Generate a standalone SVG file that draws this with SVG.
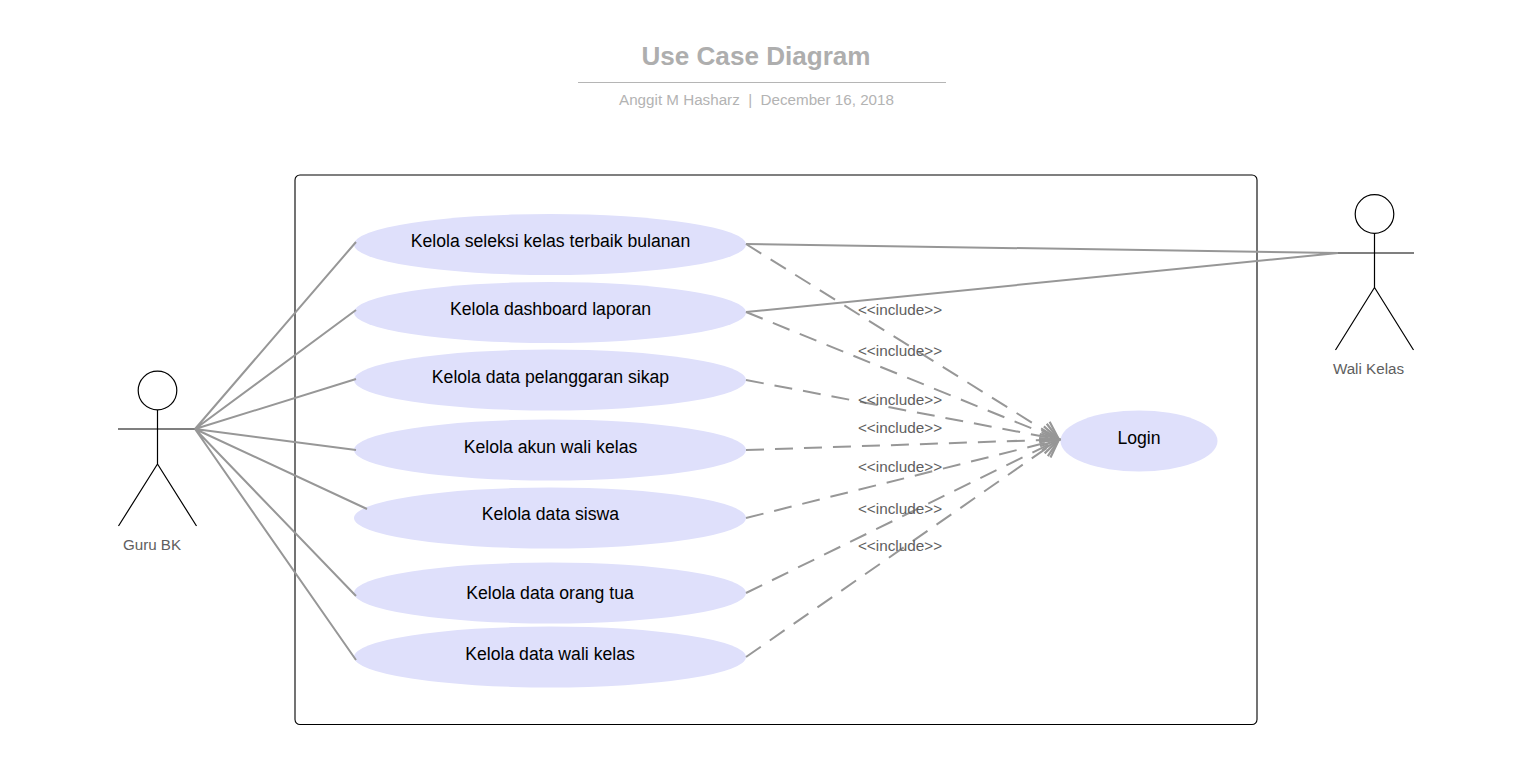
<svg xmlns="http://www.w3.org/2000/svg" width="1531" height="764" viewBox="0 0 1531 764">
<defs>
<style>
text{font-family:"Liberation Sans",Arial,sans-serif}
.uc{fill:#dfe0fb}
.ut{font-size:17.65px;fill:#000;text-anchor:middle}
.act{fill:none;stroke:#000;stroke-width:1.2}
.al{font-size:15.2px;fill:#5e5e5e}
.lb{font-size:15.3px;fill:#5e5e5e;text-anchor:middle}
.s{fill:none;stroke:#979797;stroke-width:2}
.d{fill:none;stroke:#979797;stroke-width:2;stroke-dasharray:18 11;marker-end:url(#open)}
.h{fill:none;stroke:#979797;stroke-width:2.2}
</style>
<marker id="open" markerUnits="userSpaceOnUse" viewBox="-22 -12 24 24" refX="0" refY="0" markerWidth="24" markerHeight="24" orient="auto" overflow="visible">
<path class="h" d="M-17.3 -10L0 0L-17.3 10"/>
</marker>
</defs>
<rect width="1531" height="764" fill="#fff"/>
<g id="title">
<text x="756" y="65" font-size="26.1" font-weight="bold" fill="#aeaeae" text-anchor="middle">Use Case Diagram</text>
<line x1="578" y1="82.500" x2="946" y2="82.500" stroke="#b5b5b5" stroke-width="1"/>
<text x="756.500" y="105" font-size="15.2" fill="#b3b3b3" text-anchor="middle">Anggit M Hasharz&#160;&#160;|&#160;&#160;December 16, 2018</text>
</g>
<g id="system"><rect x="295" y="175" width="962" height="549.500" rx="5" fill="#fff" stroke="#000" stroke-width="1.100"/></g>
<g id="uc1"><ellipse class="uc" cx="550" cy="244.500" rx="196" ry="30.500"/><text class="ut" x="550.500" y="247">Kelola seleksi kelas terbaik bulanan</text></g>
<g id="uc2"><ellipse class="uc" cx="550" cy="312.500" rx="196" ry="30.500"/><text class="ut" x="550.500" y="315">Kelola dashboard laporan</text></g>
<g id="uc3"><ellipse class="uc" cx="550" cy="380" rx="196" ry="30.500"/><text class="ut" x="550.500" y="383">Kelola data pelanggaran sikap</text></g>
<g id="uc4"><ellipse class="uc" cx="550" cy="450" rx="196" ry="30.500"/><text class="ut" x="550.500" y="453">Kelola akun wali kelas</text></g>
<g id="uc5"><ellipse class="uc" cx="550" cy="518" rx="196" ry="30.500"/><text class="ut" x="550.500" y="520">Kelola data siswa</text></g>
<g id="uc6"><ellipse class="uc" cx="550" cy="593" rx="196" ry="30.500"/><text class="ut" x="550" y="598.500">Kelola data orang tua</text></g>
<g id="uc7"><ellipse class="uc" cx="550" cy="657" rx="196" ry="30.500"/><text class="ut" x="550" y="659.500">Kelola data wali kelas</text></g>
<g id="login"><ellipse class="uc" cx="1139" cy="441" rx="78.500" ry="30.500"/><text class="ut" x="1139" y="443.500">Login</text></g>
<g id="guru-bk">
<circle class="act" cx="157.500" cy="390.500" r="19.300"/>
<path class="act" d="M157.500 410V464M118 429H197M157.500 464L118.500 526M157.500 464L196.500 526"/>
<text class="al" x="152" y="550" text-anchor="middle">Guru BK</text>
</g>
<g id="wali-kelas">
<circle class="act" cx="1374.500" cy="214" r="19.300"/>
<path class="act" d="M1374.500 233.500V287.500M1335 253H1414M1374.500 287.500L1335.500 350M1374.500 287.500L1413.500 350"/>
<text class="al" x="1368.500" y="373.500" text-anchor="middle">Wali Kelas</text>
</g>
<g id="connectors">
<path class="s" d="M195 429L356 242M195 429L356 310M195 429L356 379M195 429L356 450M195 429L367 509M195 429L356 596M195 429L356 660"/>
<path class="s" d="M746 244L1338 253M746 312L1338 253"/>
<path class="d" d="M746 244L1059 439.500"/>
<path class="d" d="M746 312L1059 439.500"/>
<path class="d" d="M746 380L1059 439.500"/>
<path class="d" d="M746 450L1059 439.500"/>
<path class="d" d="M746 518L1059 439.500"/>
<path class="d" d="M746 593L1059 439.500"/>
<path class="d" d="M746 657L1059 439.500"/>
</g>
<g id="labels">
<text class="lb" x="900" y="314.500">&lt;&lt;include&gt;&gt;</text>
<text class="lb" x="900" y="355.500">&lt;&lt;include&gt;&gt;</text>
<text class="lb" x="900" y="404.500">&lt;&lt;include&gt;&gt;</text>
<text class="lb" x="900" y="432.500">&lt;&lt;include&gt;&gt;</text>
<text class="lb" x="900" y="471.500">&lt;&lt;include&gt;&gt;</text>
<text class="lb" x="900" y="513.500">&lt;&lt;include&gt;&gt;</text>
<text class="lb" x="900" y="550.500">&lt;&lt;include&gt;&gt;</text>
</g>
</svg>
